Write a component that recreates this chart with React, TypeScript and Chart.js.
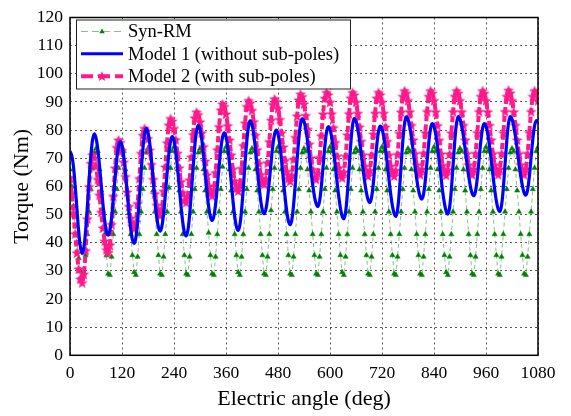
import React, { useEffect, useRef } from 'react';
import { Chart, registerables } from 'chart.js';

Chart.register(...registerables);

// ---------------- data ----------------
const ANGLE_STEP = 4; // electric degrees between two samples
const X_TICKS = [0, 120, 240, 360, 480, 600, 720, 840, 960, 1080];
const Y_TICKS = [0, 10, 20, 30, 40, 50, 60, 70, 80, 90, 100, 110, 120];
const SERIES_LABELS = ['Syn-RM', 'Model 1 (without sub-poles)', 'Model 2 (with sub-poles)'];
const X_TITLE = 'Electric angle (deg)';
const Y_TITLE = 'Torque (Nm)';

// one row = 60 electric degrees (15 samples)
const SYN_RM = [
  66, 60, 53, 46, 40, 34.5, 30, 28.5, 29.5, 35.5, 43, 51, 59, 66.5, 72,
  73.5, 72.5, 66, 58.5, 51, 43, 35.5, 29, 28.5, 35, 43, 51, 59, 66.5, 72.5,
  74, 72.5, 66, 58.5, 50.5, 43, 35.5, 29.5, 28.5, 35, 43, 51, 59, 66.5, 72,
  73.5, 72.5, 66.5, 58.5, 51, 43, 35.5, 29, 28.5, 35, 43, 51, 59.5, 66.5, 72.5,
  74, 72.5, 66, 58.5, 51, 43, 35.5, 29, 28.5, 35, 43, 51, 59, 66.5, 72,
  73.5, 72.5, 66, 58.5, 51, 43.5, 35.5, 29, 28.5, 35, 43, 51, 59, 67, 72.5,
  74, 72.5, 66, 58.5, 51, 43, 35.5, 29.5, 28.5, 35, 43, 51, 59, 66.5, 72,
  73.5, 72.5, 66, 58.5, 51, 43, 35.5, 29, 28.5, 35, 43, 51.5, 59, 66.5, 72.5,
  74, 72.5, 66, 58.5, 51, 43, 35.5, 29, 28.5, 35, 43, 51, 59, 66.5, 72,
  73.5, 72.5, 66, 58.5, 51, 43, 35.5, 29, 28.5, 35, 43, 51, 59, 66.5, 72.5,
  74, 72.5, 66, 58.5, 51, 43, 35.5, 29.5, 28.5, 35, 43, 51, 59, 66.5, 72,
  73.5, 72.5, 66, 58.5, 51, 43, 35.5, 29, 28.5, 35, 43, 51, 59, 66.5, 72.5,
  74, 72.5, 66, 58.5, 51, 43, 35.5, 29, 28.5, 35, 43, 51, 59, 66.5, 72,
  73.5, 72.5, 66, 58.5, 51, 43, 35.5, 29, 28.5, 35, 43, 51, 59, 66.5, 72.5,
  74, 72.5, 66, 58.5, 51, 43, 35.5, 29.5, 28.5, 35, 43, 51, 59, 66.5, 72,
  73.5, 72.5, 66, 58.5, 51, 43, 35.5, 29, 28.5, 35, 43, 51, 59, 66.5, 72.5,
  74, 72.5, 66, 58.5, 51, 43, 35.5, 29, 28.5, 35, 43, 51, 59, 66.5, 72,
  73.5, 72.5, 66, 58.5, 51, 43, 35.5, 29, 28.5, 35, 43, 51, 59, 66.5, 72.5,
  74,
];

const MODEL1 = [
  72.5, 71, 67, 60, 52, 44, 38.5, 36.2, 38.3, 44.2, 52.7, 62.1, 70.6, 76.5, 78.6,
  77.2, 73.4, 67.5, 60.6, 53.8, 47.9, 44.1, 42.7, 44.3, 48.9, 55.6, 63, 69.7, 74.3, 75.9,
  74.5, 70.6, 64.7, 57.9, 50.9, 45.1, 41.2, 39.8, 41.8, 47.5, 55.7, 64.7, 72.9, 78.6, 80.6,
  79.2, 75.3, 69.3, 62.4, 55.4, 49.4, 45.5, 44.1, 45.7, 50.4, 57.2, 64.6, 71.4, 76.1, 77.7,
  76.4, 72.5, 66.8, 60, 53.3, 47.5, 43.7, 42.4, 44.3, 49.8, 57.7, 66.4, 74.3, 79.8, 81.7,
  80.4, 76.8, 71.3, 64.8, 58.3, 52.8, 49.2, 47.9, 49.4, 53.7, 60, 66.9, 73.2, 77.5, 79,
  77.7, 73.9, 68.3, 61.7, 55.1, 49.5, 45.7, 44.4, 46.3, 51.7, 59.5, 68.2, 76, 81.4, 83.3,
  82, 78.5, 73.1, 66.8, 60.4, 55.1, 51.5, 50.3, 51.8, 55.9, 61.9, 68.4, 74.4, 78.5, 80,
  78.7, 75.1, 69.6, 63.2, 56.8, 51.3, 47.7, 46.4, 48.2, 53.5, 61, 69.4, 76.9, 82.2, 84,
  83.1, 80.4, 76.2, 71.2, 65.7, 60.7, 56.5, 53.8, 52.9, 54.8, 60, 67.1, 74.1, 79.3, 81.2,
  80.2, 77.4, 73, 67.7, 62, 56.7, 52.3, 49.5, 48.5, 50.9, 57.4, 66.3, 75.2, 81.7, 84.1,
  83.2, 80.6, 76.6, 71.8, 66.6, 61.7, 57.8, 55.2, 54.3, 56.1, 61.1, 67.9, 74.7, 79.6, 81.4,
  80.4, 77.7, 73.4, 68.2, 62.6, 57.4, 53.1, 50.4, 49.4, 51.8, 58.2, 67.1, 75.9, 82.3, 84.7,
  83.8, 81.3, 77.4, 72.6, 67.6, 62.8, 58.9, 56.4, 55.5, 57.3, 62.2, 68.9, 75.6, 80.5, 82.3,
  81.3, 78.5, 74.3, 69, 63.5, 58.2, 54, 51.2, 50.2, 52.5, 58.8, 67.5, 76.1, 82.4, 84.7,
  83.9, 81.4, 77.7, 73.1, 68.3, 63.7, 60, 57.5, 56.7, 58.4, 63.1, 69.5, 75.9, 80.6, 82.3,
  81.4, 78.7, 74.5, 69.4, 64, 58.9, 54.7, 52, 51.1, 53.4, 59.5, 67.9, 76.3, 82.4, 84.7,
  83.9, 81.4, 77.7, 73.2, 68.4, 63.9, 60.2, 57.7, 56.9, 58.7, 63.5, 70.1, 76.7, 81.5, 83.3,
  83,
];

const MODEL2 = [
  63.1, 57.5, 50.6, 43.2, 36.4, 30.7, 27.1, 25.8, 28.8, 37.2, 48.5, 59.9, 68.2, 71.2, 70.2,
  67.1, 62.5, 56.9, 50.8, 45.2, 40.6, 37.5, 36.5, 39.2, 46.5, 56.5, 66.5, 73.8, 76.5, 75.6,
  72.8, 68.6, 63.5, 58, 52.9, 48.7, 45.9, 45, 47.4, 53.9, 62.8, 71.7, 78.2, 80.6, 79.7,
  77, 72.9, 67.8, 62.5, 57.4, 53.3, 50.6, 49.7, 52, 58.3, 66.9, 75.5, 81.8, 84.1, 83.2,
  80.6, 76.6, 71.8, 66.6, 61.7, 57.8, 55.2, 54.3, 56.5, 62.3, 70.4, 78.4, 84.3, 86.4, 85.5,
  82.9, 79, 74.1, 69, 64.1, 60.2, 57.6, 56.7, 58.9, 64.9, 73, 81.2, 87.1, 89.3, 88.4,
  85.7, 81.6, 76.5, 71.2, 66.1, 62, 59.3, 58.4, 60.6, 66.4, 74.5, 82.5, 88.4, 90.5, 89.6,
  87, 83, 78.2, 73, 68.1, 64.2, 61.6, 60.7, 62.7, 68.3, 75.9, 83.5, 89.1, 91.1, 90.2,
  87.7, 83.8, 79, 74, 69.2, 65.3, 62.8, 61.9, 64, 69.6, 77.4, 85, 90.7, 92.8, 91.9,
  89.3, 85.2, 80.3, 75, 70.1, 66, 63.4, 62.5, 64.6, 70.2, 78, 85.7, 91.3, 93.4, 92.5,
  89.9, 85.8, 80.9, 75.6, 70.7, 66.6, 64, 63.1, 65.1, 70.7, 78.3, 85.8, 91.4, 93.4, 92.5,
  89.9, 86, 81.1, 76, 71.1, 67.2, 64.6, 63.7, 65.7, 71.1, 78.6, 86, 91.4, 93.4, 92.5,
  89.9, 86, 81.1, 76, 71.1, 67.2, 64.6, 63.7, 65.7, 71.3, 78.9, 86.4, 92, 94, 93.1,
  90.5, 86.5, 81.7, 76.5, 71.6, 67.7, 65.1, 64.2, 66.2, 71.7, 79.1, 86.6, 92, 94, 93.1,
  90.5, 86.5, 81.6, 76.4, 71.5, 67.5, 64.9, 64, 66, 71.5, 79, 86.5, 92, 94, 93.1,
  90.5, 86.5, 81.7, 76.5, 71.6, 67.7, 65.1, 64.2, 66.2, 71.7, 79.1, 86.6, 92, 94, 93.1,
  90.5, 86.5, 81.7, 76.5, 71.6, 67.7, 65.1, 64.2, 66.2, 71.7, 79.1, 86.6, 92, 94.2, 93.2,
  90.5, 86.5, 81.7, 76.5, 71.6, 67.7, 65.1, 64.2, 66.2, 71.7, 79.1, 86.6, 92, 94, 93.1,
  90.5,
];

// ---------------- styles ----------------
const FONT_FAMILY = '"Liberation Serif", "Times New Roman", serif';
const GREEN = '#008000';
const GREEN_LINE = 'rgba(40,140,40,0.55)';
const BLUE = '#0000ff';
const PINK = '#ff1a8c';

function starPath(ctx: CanvasRenderingContext2D, cx: number, cy: number, ro: number, ri: number) {
  ctx.beginPath();
  for (let i = 0; i < 10; i++) {
    const r = i % 2 === 0 ? ro : ri;
    const a = -Math.PI / 2 + (i * Math.PI) / 5;
    const px = cx + r * Math.cos(a);
    const py = cy + r * Math.sin(a);
    if (i === 0) ctx.moveTo(px, py);
    else ctx.lineTo(px, py);
  }
  ctx.closePath();
}

function makeStar(): HTMLCanvasElement {
  const c = document.createElement('canvas');
  c.width = 12;
  c.height = 12;
  const g = c.getContext('2d')!;
  g.fillStyle = PINK;
  starPath(g, 6, 6.5, 5.8, 2.4);
  g.fill();
  return c;
}

function triPath(ctx: CanvasRenderingContext2D, cx: number, cy: number, r: number) {
  ctx.beginPath();
  ctx.moveTo(cx, cy - r);
  ctx.lineTo(cx + r * 0.9, cy + r * 0.6);
  ctx.lineTo(cx - r * 0.9, cy + r * 0.6);
  ctx.closePath();
}

const frameAndLegend = {
  id: 'frameAndLegend',
  afterDraw(chart: any) {
    const ctx: CanvasRenderingContext2D = chart.ctx;
    const a = chart.chartArea;
    ctx.save();
    ctx.setLineDash([]);
    ctx.strokeStyle = '#000';
    ctx.lineWidth = 1.5;
    ctx.strokeRect(a.left, a.top, a.right - a.left, a.bottom - a.top);

    // legend box
    const bx = a.left + 6;
    const by = a.top + 2;
    const bw = 274;
    const bh = 69;
    ctx.fillStyle = '#fff';
    ctx.fillRect(bx, by, bw, bh);
    ctx.strokeStyle = '#222';
    ctx.lineWidth = 1;
    ctx.strokeRect(bx + 0.5, by + 0.5, bw, bh);

    const rows = [by + 12, by + 34.3, by + 56.7];
    const x0 = bx + 5;
    const x1 = bx + 47;
    const xm = (x0 + x1) / 2;
    ctx.font = '18.5px ' + FONT_FAMILY;
    ctx.textBaseline = 'middle';
    ctx.textAlign = 'left';

    // Syn-RM
    ctx.strokeStyle = GREEN_LINE;
    ctx.lineWidth = 1;
    ctx.setLineDash([7, 4]);
    ctx.beginPath();
    ctx.moveTo(x0, rows[0]);
    ctx.lineTo(x1, rows[0]);
    ctx.stroke();
    ctx.setLineDash([]);
    ctx.fillStyle = GREEN;
    triPath(ctx, xm, rows[0], 3);
    ctx.fill();

    // Model 1
    ctx.strokeStyle = BLUE;
    ctx.lineWidth = 3;
    ctx.beginPath();
    ctx.moveTo(x0, rows[1]);
    ctx.lineTo(x1, rows[1]);
    ctx.stroke();

    // Model 2
    ctx.strokeStyle = PINK;
    ctx.lineWidth = 4;
    ctx.setLineDash([12, 5]);
    ctx.beginPath();
    ctx.moveTo(x0, rows[2]);
    ctx.lineTo(x1, rows[2]);
    ctx.stroke();
    ctx.setLineDash([]);
    ctx.fillStyle = PINK;
    starPath(ctx, xm, rows[2] + 0.4, 5.5, 2.3);
    ctx.fill();

    ctx.fillStyle = '#000';
    SERIES_LABELS.forEach((t, i) => ctx.fillText(t, bx + 52, rows[i] + 1));
    ctx.restore();
  },
};

export default function App() {
  const ref = useRef<HTMLCanvasElement | null>(null);

  useEffect(() => {
    if (!ref.current) return;
    const star = makeStar();
    const toPts = (arr: number[]) => arr.map((v, i) => ({ x: i * ANGLE_STEP, y: v }));

    const chart = new Chart(ref.current, {
      type: 'line',
      data: {
        datasets: [
          {
            label: SERIES_LABELS[0],
            data: toPts(SYN_RM),
            borderColor: GREEN_LINE,
            borderWidth: 1,
            borderDash: [4, 3],
            pointStyle: 'triangle',
            pointRadius: 3,
            pointBackgroundColor: GREEN,
            pointBorderColor: GREEN,
            pointBorderWidth: 0.5,
            tension: 0,
            order: 3,
          },
          {
            label: SERIES_LABELS[1],
            data: toPts(MODEL1),
            borderColor: BLUE,
            borderWidth: 3.2,
            pointRadius: 0,
            tension: 0.35,
            order: 1,
          },
          {
            label: SERIES_LABELS[2],
            data: toPts(MODEL2),
            borderColor: PINK,
            borderWidth: 4,
            borderDash: [6, 3],
            pointStyle: star as any,
            pointRadius: 5,
            tension: 0.3,
            order: 2,
          },
        ],
      },
      options: {
        responsive: false,
        animation: false,
        events: [],
        layout: { padding: { left: 0, right: 33, top: 12, bottom: 0 } },
        plugins: { legend: { display: false }, tooltip: { enabled: false } },
        scales: {
          x: {
            type: 'linear',
            min: 0,
            max: 1080,
            afterBuildTicks: (s: any) => {
              s.ticks = X_TICKS.map((v) => ({ value: v }));
            },
            afterFit: (s: any) => {
              s.height = 60.7;
            },
            grid: { color: 'rgba(60,60,60,0.85)', lineWidth: 1, drawTicks: false },
            border: { display: false, dash: [2, 3] },
            ticks: {
              color: '#000',
              font: { family: FONT_FAMILY, size: 17.5 },
              padding: 8,
              maxRotation: 0,
              autoSkip: false,
              callback: (v: any) => String(v),
            },
            title: {
              display: true,
              text: X_TITLE,
              color: '#000',
              font: { family: FONT_FAMILY, size: 22 },
              padding: { top: 0, bottom: 4 },
            },
          },
          y: {
            type: 'linear',
            min: 0,
            max: 120,
            afterBuildTicks: (s: any) => {
              s.ticks = Y_TICKS.map((v) => ({ value: v }));
            },
            afterFit: (s: any) => {
              s.width = 70;
            },
            grid: { color: 'rgba(60,60,60,0.85)', lineWidth: 1, drawTicks: false },
            border: { display: false, dash: [2, 3] },
            ticks: {
              color: '#000',
              font: { family: FONT_FAMILY, size: 17.5 },
              padding: 7,
              autoSkip: false,
              callback: (v: any) => String(v),
            },
            title: {
              display: true,
              text: Y_TITLE,
              color: '#000',
              font: { family: FONT_FAMILY, size: 22 },
              padding: { top: 9, bottom: 0 },
            },
          },
        },
      },
      plugins: [frameAndLegend],
    });
    return () => chart.destroy();
  }, []);

  return (
    <div style={{ position: 'fixed', left: 0, top: 0, width: 571, height: 416, background: '#fff' }}>
      <canvas ref={ref} width={571} height={416} style={{ display: 'block' }} />
    </div>
  );
}
